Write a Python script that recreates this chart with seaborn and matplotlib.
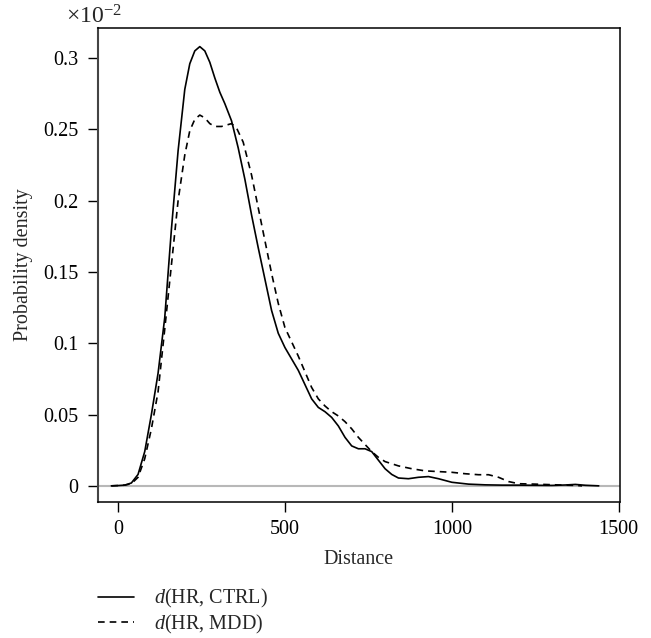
import numpy as np
import pandas as pd
import seaborn as sns
import matplotlib
matplotlib.use("Agg")
import matplotlib.pyplot as plt

# density curves, y in units of 1e-2
ctrl_x = [-20, 0, 20, 40, 60, 80, 100, 120, 140, 160, 180, 200, 215, 230, 245, 260,
          275, 290, 305, 320, 340, 360, 380, 400, 420, 440, 460, 480, 500, 520, 540,
          560, 580, 600, 620, 640, 660, 680, 700, 720, 740, 760, 780, 800, 820, 840,
          870, 900, 930, 960, 1000, 1050, 1100, 1150, 1200, 1250, 1300, 1340, 1370,
          1400, 1440]
ctrl_y = [0, 0.0002, 0.0005, 0.002, 0.008, 0.024, 0.05, 0.079, 0.118, 0.18, 0.235,
          0.278, 0.296, 0.305, 0.308, 0.305, 0.297, 0.286, 0.276, 0.268, 0.256, 0.237,
          0.215, 0.19, 0.167, 0.145, 0.123, 0.107, 0.097, 0.089, 0.081, 0.071, 0.061,
          0.055, 0.052, 0.048, 0.042, 0.034, 0.028, 0.026, 0.026, 0.024, 0.018, 0.012,
          0.008, 0.0055, 0.005, 0.006, 0.0065, 0.005, 0.0025, 0.0012, 0.0007, 0.0005,
          0.0005, 0.0004, 0.0003, 0.0006, 0.001, 0.0004, 0]

mdd_x = [-20, 0, 20, 40, 60, 80, 100, 120, 140, 160, 180, 200, 215, 230, 245, 260,
         275, 290, 310, 325, 340, 355, 375, 400, 420, 440, 460, 480, 500, 520, 540,
         560, 580, 600, 620, 640, 660, 680, 700, 720, 740, 760, 780, 800, 840, 880,
         920, 960, 1000, 1040, 1080, 1110, 1140, 1170, 1200, 1250, 1300, 1340, 1370,
         1390]
mdd_y = [0, 0.0002, 0.0005, 0.0015, 0.006, 0.019, 0.04, 0.066, 0.11, 0.155, 0.2,
         0.232, 0.249, 0.257, 0.260, 0.258, 0.254, 0.252, 0.252, 0.253, 0.254, 0.251,
         0.241, 0.218, 0.195, 0.172, 0.149, 0.128, 0.111, 0.101, 0.091, 0.080, 0.069,
         0.061, 0.056, 0.052, 0.049, 0.045, 0.040, 0.034, 0.029, 0.024, 0.020, 0.017,
         0.014, 0.012, 0.0105, 0.010, 0.0095, 0.0085, 0.0078, 0.0078, 0.006, 0.003,
         0.0015, 0.0012, 0.0008, 0.0005, 0.0003, 0]

x_ticks = [0, 500, 1000, 1500]
y_ticks = [0, 0.05, 0.1, 0.15, 0.2, 0.25, 0.3]
y_tick_labels = ["0", "0.05", "0.1", "0.15", "0.2", "0.25", "0.3"]

sns.set_theme(style="ticks")
plt.rcParams["font.family"] = ["Liberation Serif", "DejaVu Serif"]
plt.rcParams["mathtext.fontset"] = "custom"
plt.rcParams["mathtext.rm"] = "Liberation Serif"
plt.rcParams["mathtext.it"] = "Liberation Serif:italic"

fig = plt.figure(figsize=(6.51, 6.38), dpi=100)
ax = fig.add_axes([0.150, 0.213, 0.802, 0.743])

ax.axhline(0, color="#b8b8b8", lw=1.5, zorder=0)
sns.lineplot(x=ctrl_x, y=ctrl_y, color="black", lw=1.2, label="$d$(HR, CTRL)", ax=ax)
sns.lineplot(x=mdd_x, y=mdd_y, color="black", lw=1.2, linestyle=(0, (4, 3)),
             label="$d$(HR, MDD)", ax=ax)

ax.set_xlim(-61, 1503)
ax.set_ylim(-0.0114, 0.321)
ax.set_xticks(x_ticks)
ax.set_xticklabels([str(t) for t in x_ticks])
ax.set_yticks(y_ticks)
ax.set_yticklabels(y_tick_labels)
ax.tick_params(axis="both", direction="out", length=7, width=1, colors="black",
               labelsize=14.5)
ax.tick_params(axis="y", pad=7)
ax.tick_params(axis="x", pad=6)

for side in ["top", "right", "bottom", "left"]:
    ax.spines[side].set_visible(True)
    ax.spines[side].set_color("black")
    ax.spines[side].set_linewidth(1.1)
ax.spines["left"].set_color("#444444")
ax.spines["left"].set_linewidth(1.5)

ax.set_xlabel("Distance", fontsize=14.5)
ax.set_ylabel("Probability density", fontsize=14.5)
ax.xaxis.set_label_coords(0.5, -0.102)
ax.yaxis.set_label_coords(-0.124, 0.5)

fig.text(0.101, 0.974, r"$\times10^{-2}$", fontsize=17, va="center", ha="left")

ax.legend(loc="upper left", bbox_to_anchor=(0.0, -0.180), frameon=False,
          borderaxespad=0, borderpad=0, handlelength=1.8, handletextpad=1.0,
          labelspacing=0.12, fontsize=14.5)

plt.savefig("out.png", dpi=100)
